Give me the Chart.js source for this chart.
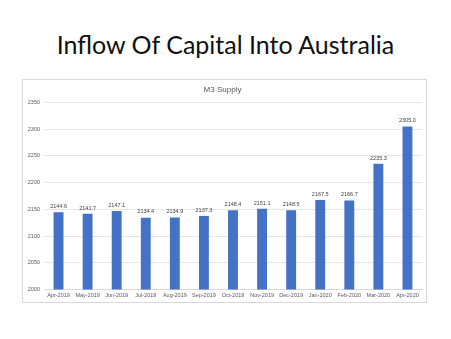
<!DOCTYPE html>
<html>
<head>
<meta charset="utf-8">
<script src="https://cdn.jsdelivr.net/npm/chart.js@4"></script>
<style>
  html, body { margin: 0; padding: 0; background: #fff; }
  body { width: 451px; height: 339px; position: relative; overflow: hidden; }
  #title { position: absolute; left: 0; top: 27px; width: 451px; text-align: center;
           font-family: Lato, "Open Sans", sans-serif; font-size: 25px; color: #111; line-height: 34px; }
  #box { position: absolute; left: 22px; top: 79px; width: 405px; height: 224px;
         border: 1px solid #d9d9d9; box-sizing: border-box; }
  #c { display: block; }
</style>
</head>
<body>
<div id="title">Inflow Of Capital Into Australia</div>
<div id="box"><canvas id="c" width="403" height="222"></canvas></div>
<script>
const categories = ["Apr-2019","May-2019","Jun-2019","Jul-2019","Aug-2019","Sep-2019","Oct-2019","Nov-2019","Dec-2019","Jan-2020","Feb-2020","Mar-2020","Apr-2020"];
const m3Supply = [2144.6, 2141.7, 2147.1, 2134.4, 2134.9, 2137.3, 2148.4, 2151.1, 2148.5, 2167.5, 2166.7, 2235.3, 2305.0];
const yTicks = [2000, 2050, 2100, 2150, 2200, 2250, 2300, 2350];

const labelPlugin = {
  id: 'barLabels',
  afterDatasetsDraw(chart) {
    const ctx = chart.ctx;
    const meta = chart.getDatasetMeta(0);
    ctx.save();
    ctx.font = '5.5px "Liberation Sans", sans-serif';
    ctx.fillStyle = '#404040';
    ctx.textAlign = 'center';
    ctx.textBaseline = 'bottom';
    meta.data.forEach((bar, i) => {
      ctx.fillText(m3Supply[i].toFixed(1), bar.x, bar.y - 3);
    });
    ctx.restore();
  }
};

new Chart(document.getElementById('c'), {
  type: 'bar',
  data: {
    labels: categories,
    datasets: [{
      label: 'M3 Supply',
      data: m3Supply,
      backgroundColor: '#4472C4',
      borderWidth: 0,
      barPercentage: 1,
      categoryPercentage: 0.34
    }]
  },
  options: {
    responsive: false,
    animation: false,
    devicePixelRatio: 1,
    layout: { padding: { left: 0, right: 4, top: 2, bottom: 0 } },
    plugins: {
      legend: { display: false },
      tooltip: { enabled: false },
      title: {
        display: true, text: 'M3 Supply', color: '#595959',
        font: { family: '"Liberation Sans", sans-serif', size: 8, weight: 'normal' },
        padding: { top: 3, bottom: 8 }
      }
    },
    scales: {
      x: {
        grid: { display: false, drawTicks: false },
        border: { color: '#d9d9d9' },
        ticks: { color: '#595959', font: { family: '"Liberation Sans", sans-serif', size: 5.5 }, maxRotation: 0, autoSkip: false, padding: 3 }
      },
      y: {
        min: 2000, max: 2350,
        afterBuildTicks(axis) { axis.ticks = yTicks.map(v => ({ value: v })); },
        afterFit(axis) { axis.width = 21; },
        grid: { color: '#e6e6e6', drawTicks: false },
        border: { display: false },
        ticks: { color: '#595959', font: { family: '"Liberation Sans", sans-serif', size: 5.5 }, padding: 4,
                 callback: (v) => String(v) }
      }
    }
  },
  plugins: [labelPlugin]
});
</script>
</body>
</html>
